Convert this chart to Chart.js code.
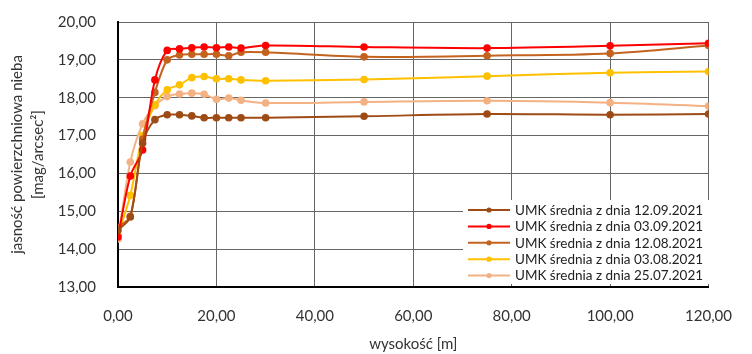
<!DOCTYPE html>
<html>
<head>
<meta charset="utf-8">
<script src="https://cdn.jsdelivr.net/npm/chart.js@4"></script>
<style>
  html, body { margin: 0; padding: 0; background: #fff; overflow: hidden; }
  #wykres { position: absolute; left: 0; top: 0; }
</style>
</head>
<body>
<canvas id="wykres" width="752" height="354"></canvas>
<script>
// wysokość [m]
const wysokosc = [0, 2.5, 5, 7.5, 10, 12.5, 15, 17.5, 20, 22.5, 25, 30, 50, 75, 100, 120];

// jasność [mag/arcsec2] dla kolejnych pomiarów
const sr1209 = [14.50, 14.85, 16.80, 17.42, 17.55, 17.55, 17.52, 17.47, 17.47, 17.47, 17.47, 17.47, 17.51, 17.57, 17.55, 17.57];
const sr0309 = [14.32, 15.93, 16.62, 18.47, 19.25, 19.29, 19.32, 19.34, 19.32, 19.34, 19.31, 19.38, 19.34, 19.31, 19.37, 19.44];
const sr1208 = [14.58, 14.87, 16.90, 18.14, 19.00, 19.13, 19.15, 19.15, 19.15, 19.11, 19.20, 19.20, 19.08, 19.11, 19.17, 19.38];
const sr0308 = [14.38, 15.42, 17.00, 17.81, 18.21, 18.34, 18.53, 18.56, 18.50, 18.50, 18.47, 18.45, 18.48, 18.57, 18.66, 18.69];
const sr2507 = [14.27, 16.30, 17.31, 17.79, 18.03, 18.10, 18.12, 18.09, 17.96, 17.99, 17.93, 17.86, 17.89, 17.92, 17.87, 17.78];

const etykiety = ["UMK średnia z dnia 12.09.2021", "UMK średnia z dnia 03.09.2021", "UMK średnia z dnia 12.08.2021",
                  "UMK średnia z dnia 03.08.2021", "UMK średnia z dnia 25.07.2021"];
const serie = [sr1209, sr0309, sr1208, sr0308, sr2507];
const kolory = ["#9E4B16", "#FF0000", "#C4631E", "#FFC000", "#F4B183"];

const czcionka = "Lato, 'Open Sans', sans-serif";
const GORA = 22; // górna krawędź obszaru wykresu na stronie

function przecinek(v) {
    return v.toFixed(2).replace(".", ",");
}

// legenda rysowana wewnątrz obszaru wykresu, na białym tle
const legendaWykresu = {
    id: "legendaWykresu",
    afterDraw(chart) {
        const ctx = chart.ctx;
        const g = chart.chartArea.top;
        ctx.save();
        ctx.fillStyle = "#fff";
        ctx.fillRect(463, g + 178, 252, 84);
        ctx.font = "13.5px " + czcionka;
        ctx.textBaseline = "middle";
        chart.data.datasets.forEach((ds, i) => {
            const y = g + 188 + i * 16.4;
            ctx.strokeStyle = ds.borderColor;
            ctx.lineWidth = 2;
            ctx.beginPath();
            ctx.moveTo(468, y);
            ctx.lineTo(510, y);
            ctx.stroke();
            ctx.fillStyle = ds.borderColor;
            ctx.beginPath();
            ctx.arc(489, y, 2.6, 0, Math.PI * 2);
            ctx.fill();
            ctx.fillStyle = "#222";
            ctx.fillText(ds.label, 515, y + 0.5);
        });
        ctx.restore();
    }
};

function konfiguracja() {
    const zbiory = serie.map((s, i) => ({
        label: etykiety[i],
        data: wysokosc.map((x, j) => ({ x: x, y: s[j] })),
        borderColor: kolory[i],
        backgroundColor: kolory[i],
        borderWidth: 2,
        pointRadius: 2.8,
        pointHoverRadius: 2.8,
        tension: 0.3,
    }));

    return {
        type: "line",
        data: { datasets: zbiory },
        plugins: [legendaWykresu],
        options: {
            responsive: false,
            animation: false,
            layout: { autoPadding: false, padding: { top: 13, right: 30, left: 0, bottom: 0 } },
            plugins: {
                legend: { display: false },
                tooltip: { enabled: false },
            },
            scales: {
                x: {
                    type: "linear",
                    min: 0,
                    max: 120,
                    ticks: {
                        stepSize: 20,
                        padding: 20,
                        color: "#333",
                        font: { family: czcionka, size: 15 },
                        callback: (v) => przecinek(v),
                    },
                    grid: { color: "#666", lineWidth: 1, drawTicks: false },
                    border: { color: "#000", width: 2 },
                    title: {
                        display: true,
                        text: "wysokość [m]",
                        color: "#333",
                        font: { family: czcionka, size: 15 },
                        padding: { top: 0, bottom: 1 },
                    },
                    afterFit: (s) => { s.height = 67; },
                },
                y: {
                    min: 13,
                    max: 20,
                    ticks: {
                        stepSize: 1,
                        padding: 22,
                        color: "#333",
                        font: { family: czcionka, size: 15 },
                        callback: (v) => przecinek(v),
                    },
                    grid: { color: "#666", lineWidth: 1, drawTicks: false },
                    border: { color: "#000", width: 2 },
                    title: {
                        display: true,
                        text: ["jasność powierzchniowa nieba", "[mag/arcsec²]"],
                        color: "#333",
                        font: { family: czcionka, size: 15, lineHeight: 1.4 },
                        padding: { top: 7, bottom: 0 },
                    },
                    afterFit: (s) => { s.width = 118; },
                },
            },
        },
    };
}

// obszar wykresu ląduje niżej niż trzeba, więc płótno jest wyższe i przesunięte w górę
const plotno = document.getElementById("wykres");
let wykres = new Chart(plotno.getContext("2d"), konfiguracja());
let przesuniecie = 0;
for (let k = 0; k < 3; k++) {
    const d = Math.round(wykres.chartArea.top - przesuniecie - GORA);
    if (d === 0) break;
    przesuniecie += d;
    wykres.destroy();
    plotno.width = 752;
    plotno.height = 354 + przesuniecie;
    plotno.style.width = "752px";
    plotno.style.height = (354 + przesuniecie) + "px";
    plotno.style.top = (-przesuniecie) + "px";
    wykres = new Chart(plotno.getContext("2d"), konfiguracja());
}
</script>
</body>
</html>
